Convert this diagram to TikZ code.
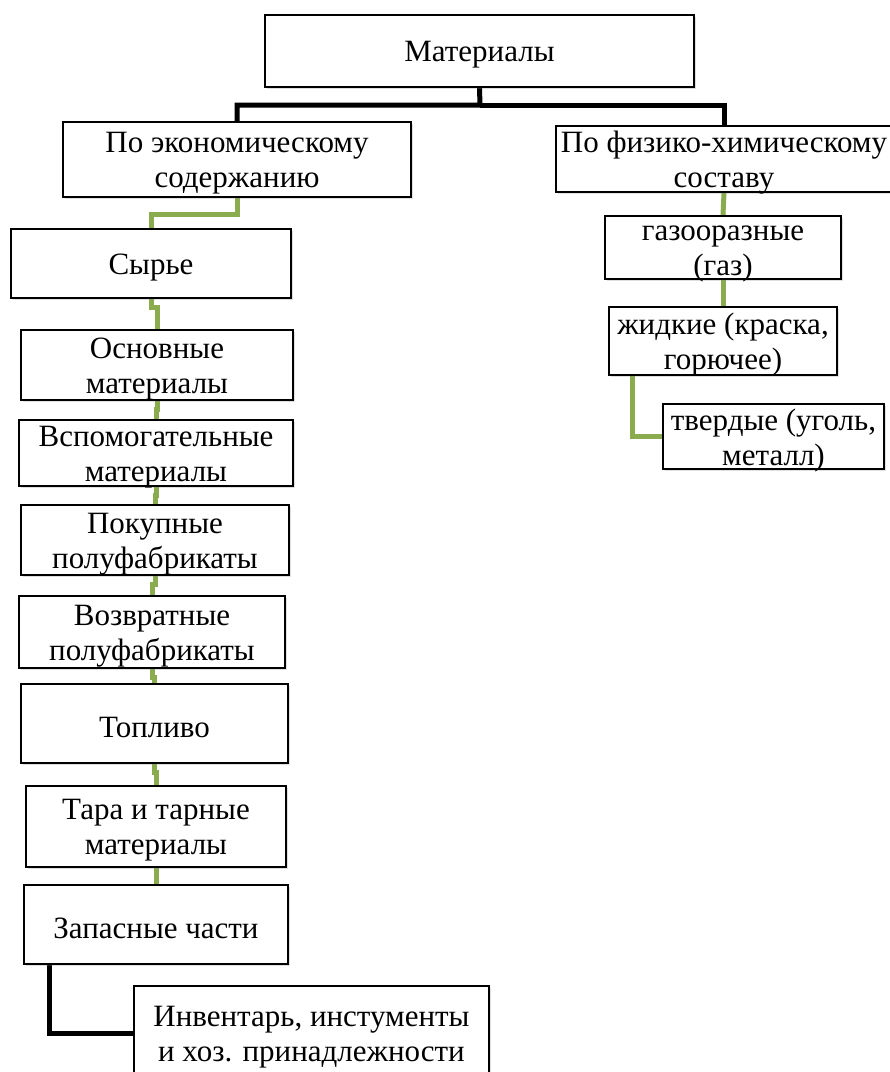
\documentclass[tikz,border=0pt]{standalone}
\usepackage{fontspec}
\setmainfont{Liberation Serif}
\usepackage{tikz}
\usetikzlibrary{shadows}
\usetikzlibrary{backgrounds}
\definecolor{leafgreen}{RGB}{138,172,78}
\tikzset{box/.style = {draw, line width = 2, fill = white, inner sep = 0,
    drop shadow = {opacity = 0.25, shadow xshift = 2pt, shadow yshift = -2pt}}}
\tikzset{txt/.style = {align = center, inner sep = 0, yshift = -4pt, font = \fontsize{31}{35}\selectfont}}
\tikzset{trunk/.style = {line width = 5, black}}
\tikzset{twig/.style = {line width = 5, leafgreen}}

\begin{document}
\begin{tikzpicture}[x = 1pt, y = -1pt]
      \useasboundingbox (0, 0) rectangle (890, 1072);

      \node [box, minimum width = 429, minimum height = 72] (root) at (479.5, 51) {};
      \node [txt] (root-t) at (root) {Материалы};
      \node [box, minimum width = 348, minimum height = 75] (econ) at (237, 159.5) {};
      \node [txt] (econ-t) at (econ) {По экономическому\\содержанию};
      \node [box, minimum width = 336, minimum height = 66] (phys) at (724, 159) {};
      \node [txt] (phys-t) at (phys) {По физико-химическому\\составу};

      % left column
      \node [box, minimum width = 280, minimum height = 69] (raw) at (151, 263.5) {};
      \node [txt] (raw-t) at (raw) {Сырье};
      \node [box, minimum width = 272, minimum height = 70] (basic) at (157, 365) {};
      \node [txt] (basic-t) at (basic) {Основные\\материалы};
      \node [box, minimum width = 274, minimum height = 66] (aux) at (156, 453) {};
      \node [txt] (aux-t) at (aux) {Вспомогательные\\материалы};
      \node [box, minimum width = 268, minimum height = 70] (bought) at (155, 540) {};
      \node [txt] (bought-t) at (bought) {Покупные\\полуфабрикаты};
      \node [box, minimum width = 266, minimum height = 72] (returned) at (152, 632) {};
      \node [txt] (returned-t) at (returned) {Возвратные\\полуфабрикаты};
      \node [box, minimum width = 267, minimum height = 79] (fuel) at (154.5, 723.5) {};
      \node [txt] (fuel-t) at (fuel) {Топливо};
      \node [box, minimum width = 260, minimum height = 81] (tare) at (156, 826.5) {};
      \node [txt] (tare-t) at (tare) {Тара и тарные\\материалы};
      \node [box, minimum width = 264, minimum height = 79] (spare) at (156, 924.5) {};
      \node [txt] (spare-t) at (spare) {Запасные части};
      \node [box, minimum width = 355, minimum height = 94] (tools) at (311.5, 1033) {};
      \node [txt] (tools-t) at (tools) {Инвентарь, инстументы\\и хоз. принадлежности};

      % right column
      \node [box, minimum width = 236, minimum height = 63] (gas) at (723, 247.5) {};
      \node [txt] (gas-t) at ([yshift = -2pt] gas) {газооразные\\(газ)};
      \node [box, minimum width = 228, minimum height = 68] (liquid) at (723, 341) {};
      \node [txt] (liquid-t) at (liquid) {жидкие (краска,\\горючее)};
      \node [box, minimum width = 221, minimum height = 65] (solid) at (773.5, 436.5) {};
      \node [txt] (solid-t) at (solid) {твердые (уголь,\\металл)};

      \begin{pgfonlayer}{background}
        \coordinate (fork) at (480, 105);
        \draw [trunk] (root.south) -- (fork) -| (econ.north);
        \draw [trunk] (fork) -| (phys.north);

        \draw [twig] (econ.south) -- ++(0, 16) -| (raw.north);
        \foreach \a/\b in {raw/basic, basic/aux, aux/bought, bought/returned, returned/fuel, fuel/tare, tare/spare}
          \draw [twig] (\a.south) -- ++(0, 8) -| (\b.north);
        \draw [trunk] ([xshift = 26pt] spare.south west) |- (tools.west);

        \draw [twig] (phys.south) -- (gas.north);
        \draw [twig] (gas.south) -- (liquid.north);
        \draw [twig] ([xshift = 24pt] liquid.south west) |- (solid.west);
      \end{pgfonlayer}
    \end{tikzpicture}
\end{document}
